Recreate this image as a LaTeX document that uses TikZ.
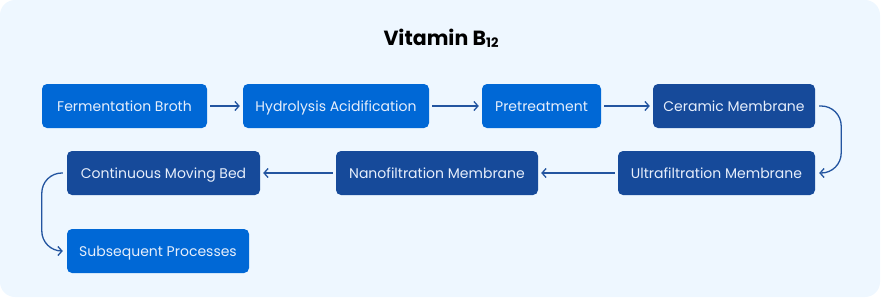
\documentclass[tikz,border=0pt]{standalone}
\usepackage{fontspec}
\setmainfont{Poppins}
\usepackage{xcolor}
\usepackage{tikz}
\definecolor{bgcolor}{HTML}{EEF7FF}
\definecolor{stepcolor}{HTML}{0068D6}
\definecolor{membranecolor}{HTML}{164A9A}
\definecolor{arrowcolor}{HTML}{2355A0}
\definecolor{labelcolor}{HTML}{E6EEFB}
\usetikzlibrary{arrows.meta, positioning, calc}

\begin{document}
\begin{tikzpicture}[x=1pt, y=-1pt,
    stage/.style={rectangle, fill=stepcolor, text=labelcolor, rounded corners=5pt, minimum height=44pt, inner sep=0pt, text height=11.5pt, text depth=0pt, align=center, font=\fontsize{14}{16}\selectfont},
    membrane/.style={stage, fill=membranecolor},
    arrow/.style={-{Straight Barb[length=4pt, width=9pt, line width=1.3pt]}, line width=1.3pt, draw=arrowcolor},
    loop/.style={arrow, rounded corners=20pt}
]
    % Background
    \useasboundingbox (0,0) rectangle (882,298);
    \fill[bgcolor, rounded corners=15pt] (0,0) rectangle (880,297);

    % Title
    \node[font=\fontsize{20.5}{24}\selectfont\bfseries, text height=15pt, text depth=0pt] (title) at (441, 38) {Vitamin B\raisebox{-2pt}{\fontsize{13}{13}\selectfont 12}};

    % First row
    \node[stage, minimum width=165pt] (fb) at (124.5, 106) {Fermentation Broth};
    \node[stage, minimum width=186pt] (ha) at (336, 106) {Hydrolysis Acidification};
    \node[stage, minimum width=119pt] (pt) at (541.5, 106) {Pretreatment};
    \node[membrane, minimum width=162pt] (cm) at (734, 106) {Ceramic Membrane};

    % Second row
    \node[membrane, minimum width=197pt] (uf) at (716.5, 173) {Ultrafiltration Membrane};
    \node[membrane, minimum width=202pt] (nf) at (437, 173) {Nanofiltration Membrane};
    \node[membrane, minimum width=193pt] (cmb) at (163.5, 173) {Continuous Moving Bed};

    % Third row
    \node[stage, minimum width=182pt] (sp) at (158, 251) {Subsequent Processes};

    % Turning points
    \coordinate (rturn) at ($(cm.east)+(26,0)$);
    \coordinate (lturn) at ($(cmb.west)+(-25,0)$);

    % Arrows
    \draw[arrow, shorten <=3pt, shorten >=3pt] (fb) -- (ha);
    \draw[arrow, shorten <=3pt, shorten >=3pt] (ha) -- (pt);
    \draw[arrow, shorten <=3pt, shorten >=3pt] (pt) -- (cm);
    \draw[loop] ([xshift=4pt]cm.east) -- (rturn) |- ([xshift=4pt]uf.east);
    \draw[arrow, shorten <=3pt, shorten >=3pt] (uf) -- (nf);
    \draw[arrow, shorten <=3pt, shorten >=3pt] (nf) -- (cmb);
    \draw[loop] ([xshift=-4pt]cmb.west) -- (lturn) |- ([xshift=-4pt]sp.west);
\end{tikzpicture}
\end{document}
